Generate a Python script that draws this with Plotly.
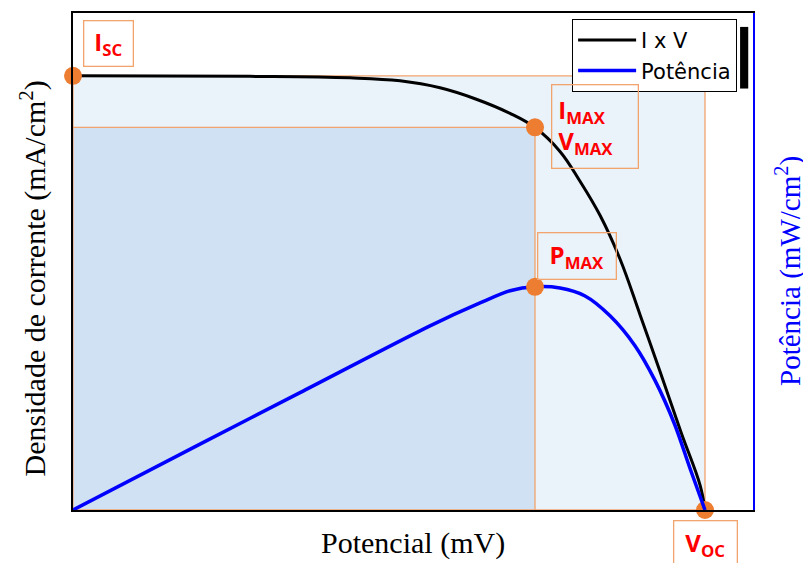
import plotly.graph_objects as go

# ---- data ----
# Current density curve (I x V)
v_iv = [0, 182.2, 285.1, 336.6, 377.8, 413.8, 449.9, 475.6, 501.3, 521.9, 542.5,
        563.1, 583.7, 604.3, 625.9, 645.5, 650.6]
j_iv = [17.47, 17.45, 17.39, 17.27, 16.99, 16.55, 15.96, 15.39, 14.43, 13.23, 11.86,
        10.10, 7.86, 5.57, 3.13, 1.00, 0.0]
# Power curve
v_p = [0, 130.7, 233.7, 367.5, 419.0, 449.9, 475.6, 501.3, 527.1, 552.8, 578.5,
       599.1, 619.7, 635.1, 650.6]
p_p = [0, 2.16, 3.85, 6.04, 6.79, 7.19, 7.32, 7.28, 7.02, 6.37, 5.39,
       4.25, 2.78, 1.37, 0.0]
# Key points
JSC = 17.47
VOC = 650.6
VMAX = 475.6
JMAX = 15.4
PMAX = 7.32

ORANGE = "#ED7D31"
EDGE = "#F2A46E"
LABEL_FONT = dict(family="Open Sans", size=24, color="#FF0000")

fig = go.Figure()

fig.add_trace(go.Scatter(x=v_iv, y=j_iv, mode="lines", name="I x V",
                         line=dict(color="black", width=3, shape="spline", smoothing=1.1),
                         cliponaxis=False))
fig.add_trace(go.Scatter(x=v_p, y=p_p, mode="lines", name="Potência", yaxis="y2",
                         line=dict(color="#0000FF", width=3.5, shape="spline", smoothing=0.8),
                         cliponaxis=False))

# key point markers
fig.add_trace(go.Scatter(x=[0, VMAX, VOC], y=[JSC, JMAX, 0], mode="markers",
                         marker=dict(color=ORANGE, size=18), showlegend=False,
                         cliponaxis=False))
fig.add_trace(go.Scatter(x=[VMAX], y=[PMAX], mode="markers", yaxis="y2",
                         marker=dict(color=ORANGE, size=18), showlegend=False,
                         cliponaxis=False))

# rectangles
fig.add_shape(type="rect", xref="x", yref="y", x0=0, y0=0, x1=VOC, y1=JSC,
              fillcolor="#EAF2FA", line=dict(color=EDGE, width=1.3), layer="below")
fig.add_shape(type="rect", xref="x", yref="y", x0=0, y0=0, x1=VMAX, y1=JMAX,
              fillcolor="#CFE1F2", line=dict(color=EDGE, width=1.3), layer="below")

# legend shadow
fig.add_shape(type="rect", xref="paper", yref="paper", x0=0.981, x1=0.993,
              y0=0.848, y1=0.972, fillcolor="black", line=dict(width=0))

# labels
fig.add_annotation(x=0, y=JSC, xref="x", yref="y", text="<b>I<sub>SC</sub></b>",
                   xanchor="left", yanchor="bottom", xshift=10, yshift=9,
                   showarrow=False, font=LABEL_FONT, bordercolor=EDGE, borderwidth=1.3,
                   width=48, height=44, borderpad=0)
fig.add_annotation(x=VMAX, y=JMAX, xref="x", yref="y",
                   text="<b>I<sub>MAX</sub></b><br><b>V<sub>MAX</sub></b>",
                   xanchor="left", yanchor="middle", xshift=16, yshift=1, align="left",
                   showarrow=False, font=LABEL_FONT, bordercolor=EDGE, borderwidth=1.3,
                   width=73, height=70, borderpad=6)
fig.add_annotation(x=VMAX, y=PMAX, xref="x", yref="y2", text="<b>P<sub>MAX</sub></b>",
                   xanchor="left", yanchor="bottom", xshift=2, yshift=7,
                   showarrow=False, font=LABEL_FONT, bordercolor=EDGE, borderwidth=1.3,
                   width=77, height=45, borderpad=0)
fig.add_annotation(x=VOC, y=0, xref="x", yref="y", text="<b>V<sub>OC</sub></b>",
                   xanchor="center", yanchor="top", xshift=0, yshift=-10,
                   showarrow=False, font=LABEL_FONT, bordercolor=EDGE, borderwidth=1.3,
                   width=62, height=46, borderpad=0)

# axis titles
TITLE_FONT = dict(family="Liberation Serif", size=30, color="black")
fig.add_annotation(x=0.5, y=0, xref="paper", yref="paper", text="Potencial (mV)",
                   xanchor="center", yanchor="top", yshift=-14, showarrow=False,
                   font=TITLE_FONT)
fig.add_annotation(x=0, y=0.465, xref="paper", yref="paper",
                   text="Densidade de corrente (mA/cm<sup>2</sup>)", textangle=-90,
                   xanchor="right", yanchor="middle", xshift=-18, showarrow=False,
                   font=TITLE_FONT)
fig.add_annotation(x=1, y=0.48, xref="paper", yref="paper",
                   text="Potência (mW/cm<sup>2</sup>)", textangle=-90,
                   xanchor="left", yanchor="middle", xshift=15, showarrow=False,
                   font=dict(family="Liberation Serif", size=29, color="#0000FF"))

fig.update_layout(
    width=803, height=555,
    margin=dict(l=65, r=58, t=3, b=53),
    paper_bgcolor="white", plot_bgcolor="white",
    xaxis=dict(range=[0, 700], showline=True, linecolor="black", linewidth=2,
               mirror=True, showgrid=False, zeroline=False, showticklabels=False,
               ticks=""),
    yaxis=dict(range=[0, 20], showline=True, linecolor="black", linewidth=2,
               showgrid=False, zeroline=False, showticklabels=False, ticks=""),
    yaxis2=dict(range=[0, 16.3], overlaying="y", side="right", showline=True,
                linecolor="#0000FF", linewidth=2, showgrid=False, zeroline=False,
                showticklabels=False, ticks=""),
    legend=dict(x=0.734, y=0.988, xanchor="left", yanchor="top",
                bgcolor="white", bordercolor="black", borderwidth=1,
                font=dict(family="DejaVu Sans", size=21, color="black"),
                tracegroupgap=0, itemwidth=58),
    showlegend=True,
)

fig.write_html("out.html")
